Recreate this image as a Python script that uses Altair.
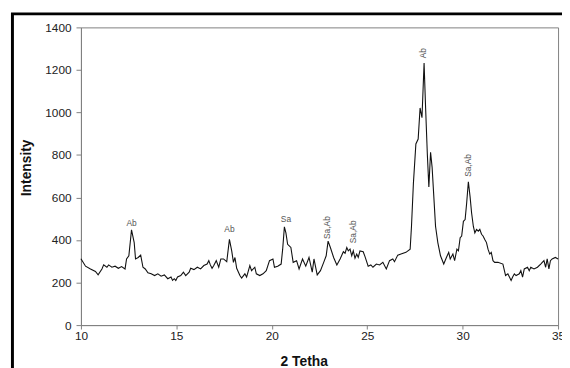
import altair as alt
import pandas as pd

two_theta = [10.00, 10.24, 10.50, 10.76, 10.90, 11.10, 11.19, 11.36, 11.45, 11.62, 11.79, 11.96,
             12.13, 12.31, 12.39, 12.51, 12.65, 12.79, 12.86, 13.00, 13.13, 13.25, 13.37, 13.51,
             13.68, 13.86, 14.03, 14.20, 14.37, 14.55, 14.72, 14.80, 14.89, 14.97, 15.06, 15.23,
             15.37, 15.49, 15.67, 15.75, 15.92, 16.10, 16.27, 16.44, 16.61, 16.70, 16.78, 16.87,
             16.96, 17.09, 17.22, 17.33, 17.47, 17.64, 17.78, 17.90, 17.99, 18.07, 18.16, 18.33,
             18.42, 18.59, 18.68, 18.85, 18.94, 19.11, 19.19, 19.37, 19.54, 19.71, 19.88, 20.06,
             20.14, 20.31, 20.49, 20.57, 20.66, 20.74, 20.83, 21.00, 21.12, 21.30, 21.43, 21.61,
             21.78, 21.95, 22.12, 22.21, 22.38, 22.55, 22.72, 22.85, 22.95, 23.07, 23.24, 23.41,
             23.58, 23.75, 23.84, 23.93, 24.01, 24.10, 24.19, 24.27, 24.36, 24.45, 24.53, 24.62,
             24.79, 24.88, 25.05, 25.19, 25.30, 25.48, 25.65, 25.82, 26.00, 26.17, 26.34, 26.43,
             26.60, 26.77, 27.03, 27.25, 27.32, 27.42, 27.55, 27.67, 27.77, 27.87, 27.98, 28.06,
             28.15, 28.23, 28.32, 28.40, 28.49, 28.58, 28.70, 28.84, 29.01, 29.15, 29.27, 29.35,
             29.49, 29.58, 29.70, 29.78, 29.87, 29.95, 30.04, 30.13, 30.21, 30.30, 30.39, 30.47,
             30.56, 30.64, 30.73, 30.82, 30.90, 30.99, 31.07, 31.16, 31.25, 31.33, 31.42, 31.50,
             31.59, 31.68, 31.85, 32.11, 32.25, 32.37, 32.54, 32.62, 32.71, 32.80, 32.97, 33.05,
             33.14, 33.23, 33.40, 33.49, 33.57, 33.74, 33.92, 34.09, 34.26, 34.35, 34.43, 34.52,
             34.60, 34.69, 34.86, 35.00]

intensity = [312, 277, 264, 252, 236, 264, 283, 272, 283, 272, 277, 267,
             275, 264, 311, 326, 448, 388, 311, 318, 329, 272, 264, 246,
             241, 233, 241, 230, 236, 218, 226, 210, 218, 210, 226, 233,
             249, 233, 249, 267, 261, 272, 264, 280, 287, 303, 283, 267,
             280, 303, 272, 311, 311, 298, 403, 349, 295, 318, 267, 233,
             221, 241, 226, 280, 256, 272, 241, 233, 241, 256, 303, 311,
             272, 277, 287, 357, 462, 434, 380, 365, 295, 303, 264, 311,
             277, 318, 249, 311, 236, 256, 295, 326, 395, 365, 318, 283,
             311, 345, 338, 365, 349, 357, 326, 349, 314, 334, 318, 349,
             345, 323, 277, 283, 272, 287, 283, 295, 264, 303, 311, 298,
             329, 334, 342, 357, 465, 666, 852, 875, 1021, 975, 1232, 1021,
             805, 650, 813, 743, 604, 465, 388, 326, 287, 318, 342, 311,
             334, 303, 357, 349, 411, 419, 488, 496, 573, 674, 604, 527,
             465, 434, 450, 442, 450, 427, 419, 403, 388, 357, 334, 342,
             303, 295, 295, 287, 233, 241, 210, 226, 241, 233, 241, 256,
             226, 264, 272, 256, 272, 264, 272, 287, 303, 272, 311, 264,
             303, 311, 318, 311]

# peak annotations
flat_labels = ["Ab", "Ab", "Sa"]
flat_x = [12.65, 17.78, 20.74]
flat_y = [452, 424, 470]

rot_labels = ["Sa,Ab", "Sa,Ab", "Ab", "Sa,Ab"]
rot_x = [22.92, 24.25, 27.95, 30.30]
rot_y = [405, 385, 1255, 697]

FONT = "Liberation Sans"
GRAY = "#808080"

df = pd.DataFrame({"theta": two_theta, "intensity": intensity})
df_flat = pd.DataFrame({"label": flat_labels, "theta": flat_x, "intensity": flat_y})
df_rot = pd.DataFrame({"label": rot_labels, "theta": rot_x, "intensity": rot_y})

x_scale = alt.Scale(domain=[10, 35], nice=False, zero=False)
y_scale = alt.Scale(domain=[0, 1400], nice=False)

line = alt.Chart(df).mark_line(color="#111111", strokeWidth=1.1).encode(
    x=alt.X("theta:Q", scale=x_scale,
            axis=alt.Axis(values=[10, 15, 20, 25, 30, 35], title="2 Tetha", format="d",
                          titleX=226, titleY=41,
                          titleAlign="center", titleBaseline="alphabetic")),
    y=alt.Y("intensity:Q", scale=y_scale,
            axis=alt.Axis(values=[0, 200, 400, 600, 800, 1000, 1200, 1400], title="Intensity",
                          format="d", titleX=-55, titleY=142, titleAlign="center",
                          titleBaseline="middle", titleAngle=270)),
)

flat_text = alt.Chart(df_flat).mark_text(
    font=FONT, fontSize=8.5, color="#555555", align="center", baseline="bottom", dy=-1
).encode(x=alt.X("theta:Q", scale=x_scale), y=alt.Y("intensity:Q", scale=y_scale), text="label:N")

rot_text = alt.Chart(df_rot).mark_text(
    font=FONT, fontSize=8.5, color="#555555", align="left", baseline="middle", angle=270
).encode(x=alt.X("theta:Q", scale=x_scale), y=alt.Y("intensity:Q", scale=y_scale), text="label:N")

frame_src = pd.DataFrame({"k": [0]})
frame = alt.Chart(frame_src).mark_rect(
    fill="transparent", stroke="black", strokeWidth=3, clip=False
).encode(x=alt.value(-69.5), y=alt.value(-13.7), x2=alt.value(620), y2=alt.value(420))

chart = alt.layer(line, flat_text, rot_text, frame).properties(
    width=484, height=302,
    autosize=alt.AutoSizeParams(type="none"),
    padding={"left": 74, "top": 17, "right": 4, "bottom": 50},
).configure_view(
    stroke=GRAY, strokeWidth=1
).configure_axis(
    grid=False, domainColor=GRAY, tickColor=GRAY, tickSize=5,
    labelFont=FONT, labelFontSize=12, labelColor="#222222",
    titleFont=FONT, titleFontSize=14, titleFontWeight="bold", titleColor="#111111",
).configure_axisX(
    labelPadding=2, tickSize=4, labelFlush=False
).configure_axisY(
    labelPadding=5
)

chart.save("out.html", embed_options={"renderer": "svg", "actions": False})
